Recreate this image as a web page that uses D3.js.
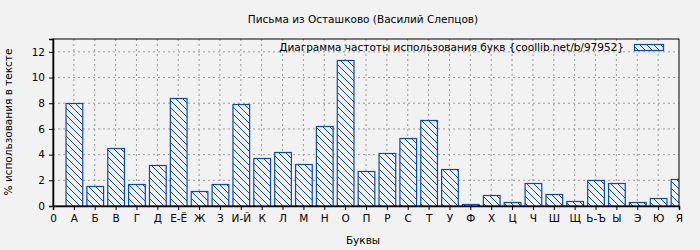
<!DOCTYPE html>
<html>
<head>
<meta charset="utf-8">
<script src="https://cdn.jsdelivr.net/npm/d3@7"></script>
<style>
  body { margin: 0; background: #f2f2f2; }
  text { font-family: "DejaVu Sans", sans-serif; fill: #000; }
</style>
</head>
<body>
<div id="chart"></div>
<script>
// Letters on the x axis (position 0 is an empty "0" tick)
const tickLabels = ["0", "А", "Б", "В", "Г", "Д", "Е-Ё", "Ж", "З", "И-Й", "К", "Л", "М", "Н", "О",
  "П", "Р", "С", "Т", "У", "Ф", "Х", "Ц", "Ч", "Ш", "Щ", "Ь-Ъ", "Ы", "Э", "Ю", "Я"];
const letters = tickLabels.slice(1);
const values = [8.0, 1.54, 4.5, 1.69, 3.18, 8.41, 1.15, 1.69, 7.94, 3.72, 4.19, 3.26, 6.22, 11.38,
  2.71, 4.11, 5.29, 6.69, 2.86, 0.16, 0.86, 0.29, 1.77, 0.91, 0.39, 2.0, 1.77, 0.29, 0.6, 2.08];
const yTicks = [0, 2, 4, 6, 8, 10, 12];

const W = 700, H = 250;
const margin = { top: 39, right: 21, bottom: 44, left: 53 };
const width = W - margin.left - margin.right;
const height = H - margin.top - margin.bottom;
const blue = "#0a4ab4";
const fs = 10.5;

const svg = d3.select("#chart").append("svg")
  .attr("width", W).attr("height", H);

svg.append("rect").attr("width", W).attr("height", H).attr("fill", "#f2f2f2");

// hatch pattern for the bars
const defs = svg.append("defs");
defs.append("pattern")
  .attr("id", "hatch")
  .attr("patternUnits", "userSpaceOnUse")
  .attr("width", 7).attr("height", 7)
  .call(p => {
    p.append("rect").attr("width", 7).attr("height", 7).attr("fill", "#f2f2f2");
    p.append("path").attr("d", "M0,0 L7,7 M-1,6 L1,8 M6,-1 L8,1")
      .attr("stroke", blue).attr("stroke-width", 1);
  });
defs.append("clipPath").attr("id", "plotclip")
  .append("rect").attr("width", width).attr("height", height);

const g = svg.append("g").attr("transform", `translate(${margin.left},${margin.top})`);

const x = d3.scaleLinear().domain([0, tickLabels.length - 1]).range([0, width]);
const y = d3.scaleLinear().domain([0, 13]).range([height, 0]);

// grid
g.append("g").selectAll("line").data(d3.range(1, tickLabels.length - 1)).enter().append("line")
  .attr("x1", d => x(d)).attr("x2", d => x(d))
  .attr("y1", 0).attr("y2", height)
  .attr("stroke", "#999").attr("stroke-dasharray", "2,3");
g.append("g").selectAll("line").data(yTicks.slice(1)).enter().append("line")
  .attr("x1", 0).attr("x2", width)
  .attr("y1", d => y(d)).attr("y2", d => y(d))
  .attr("stroke", "#999").attr("stroke-dasharray", "2,3");

// bars
const bw = x(1) * 0.8;
g.append("g").attr("clip-path", "url(#plotclip)")
  .selectAll("rect").data(values).enter().append("rect")
  .attr("x", (d, i) => x(i + 1) - bw / 2 + 0.5)
  .attr("y", d => Math.round(y(d)) + 0.5)
  .attr("width", bw)
  .attr("height", d => height - Math.round(y(d)))
  .attr("fill", "url(#hatch)")
  .attr("stroke", blue).attr("stroke-width", 1.2);

// frame
g.append("rect").attr("x", 0).attr("y", 0).attr("width", width).attr("height", height)
  .attr("fill", "none").attr("stroke", "#000").attr("stroke-width", 1);

// axes
const xAxis = g.append("g").attr("transform", `translate(0,${height})`)
  .call(d3.axisBottom(x).tickValues(d3.range(tickLabels.length))
    .tickFormat(i => tickLabels[i]).tickSize(4).tickPadding(5));
const yAxis = g.append("g")
  .call(d3.axisLeft(y).tickValues(yTicks).tickSize(4).tickPadding(4));
[xAxis, yAxis].forEach(a => {
  a.select(".domain").attr("stroke", "#000").attr("stroke-width", 1.5);
  a.selectAll("text").attr("font-size", fs).attr("font-family", "DejaVu Sans, sans-serif");
});

// titles
svg.append("text").attr("x", 363).attr("y", 23).attr("text-anchor", "middle")
  .attr("font-size", fs).text("Письма из Осташково (Василий Слепцов)");
svg.append("text").attr("x", 363).attr("y", 244).attr("text-anchor", "middle")
  .attr("font-size", fs).text("Буквы");
svg.append("text").attr("transform", "translate(12,122) rotate(-90)").attr("text-anchor", "middle")
  .attr("font-size", fs).text("% использования в тексте");

// legend
svg.append("text").attr("x", 624).attr("y", 51).attr("text-anchor", "end")
  .attr("font-size", fs).text("Диаграмма частоты использования букв {coollib.net/b/97952}");
svg.append("rect").attr("x", 634.5).attr("y", 44.5).attr("width", 29).attr("height", 6)
  .attr("fill", "url(#hatch)").attr("stroke", blue).attr("stroke-width", 1.2);
</script>
</body>
</html>
